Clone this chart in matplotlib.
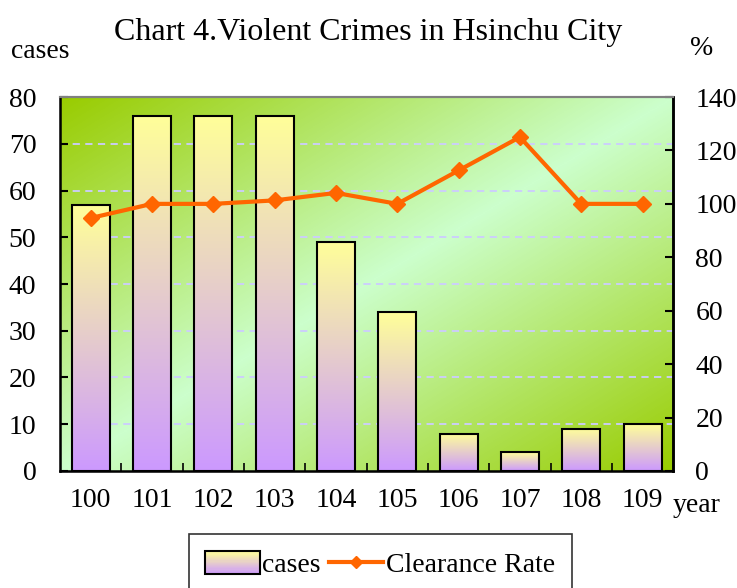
import numpy as np
import matplotlib
matplotlib.use("Agg")
import matplotlib.pyplot as plt
from matplotlib.colors import LinearSegmentedColormap
from matplotlib.patches import Rectangle
from matplotlib.lines import Line2D
from matplotlib.legend_handler import HandlerBase

plt.rcParams['font.family'] = ['Liberation Serif', 'DejaVu Serif']

years = ['100', '101', '102', '103', '104', '105', '106', '107', '108', '109']
cases = [57, 76, 76, 76, 49, 34, 8, 4, 9, 10]
clearance = [94.7, 100, 100, 101.3, 104.1, 100, 112.5, 125, 100, 100]

ORANGE = '#FF6600'
FS = 20
bar_cmap = LinearSegmentedColormap.from_list('bar', ['#CC99FF', '#FFFF99'])
bg_cmap = LinearSegmentedColormap.from_list('bg', ['#CCFFCC', '#99CC00'])

fig = plt.figure(figsize=(7.37, 5.88), dpi=100)
ax = fig.add_axes([0.0814, 0.199, 0.832, 0.636])
x = np.arange(len(years))

# background diagonal gradient
gx, gy = np.meshgrid(np.linspace(0, 1, 300), np.linspace(1, 0, 300))
t = np.abs(gx + (1 - gy) - 1)
ax.imshow(t, cmap=bg_cmap, extent=[0, 1, 0, 1], transform=ax.transAxes,
          aspect='auto', zorder=0, vmin=0, vmax=1)

bars = ax.bar(x, cases, width=0.62, facecolor='none', edgecolor='black',
              linewidth=1.5, zorder=3)
grad = np.linspace(1, 0, 256).reshape(-1, 1)
for b in bars:
    im = ax.imshow(grad, cmap=bar_cmap, aspect='auto', zorder=2,
                   extent=[b.get_x(), b.get_x() + b.get_width(), 0, b.get_height()])
    im.set_clip_path(b)

ax.set_xlim(-0.5, len(years) - 0.5)
ax.set_ylim(0, 80)
ax.set_yticks(range(0, 81, 10))
for yv in range(10, 80, 10):
    ax.axhline(yv, color='#CCCCFF', linestyle=(0, (4, 3)), linewidth=1.3, zorder=1)

ax.set_xticks(x)
ax.set_xticklabels(years)
ax.set_xticks(np.arange(0.5, len(years) - 1, 1), minor=True)
ax.tick_params(axis='x', which='major', length=0, pad=12, labelsize=FS)
ax.tick_params(axis='x', which='minor', direction='in', length=6, width=1.2)
ax.tick_params(axis='y', direction='in', length=6, width=1.5, pad=17, labelsize=FS)

ax.spines['top'].set_color('#808080')
ax.spines['top'].set_linewidth(1.5)
for s in ['left', 'bottom', 'right']:
    ax.spines[s].set_linewidth(1.8)

ax2 = ax.twinx()
ax2.plot(x, clearance, color=ORANGE, linewidth=3, marker='D', markersize=8, zorder=5)
ax2.set_ylim(0, 140)
ax2.set_yticks(range(0, 141, 20))
ax2.tick_params(axis='y', direction='in', length=6, width=1.5, pad=16, labelsize=FS)
ax2.spines['right'].set_linewidth(1.8)
ax2.spines['top'].set_color('#808080')
ax2.spines['top'].set_linewidth(1.5)

fig.text(0.5, 0.945, 'Chart 4.Violent Crimes in Hsinchu City', ha='center', va='center', fontsize=23)
fig.text(0.015, 0.912, 'cases', ha='left', va='center', fontsize=FS)
fig.text(0.936, 0.918, '%', ha='left', va='center', fontsize=FS)
fig.text(0.912, 0.140, 'year', ha='left', va='center', fontsize=FS)


class GradientHandler(HandlerBase):
    def create_artists(self, legend, orig_handle, xdescent, ydescent, width, height, fontsize, trans):
        arts = []
        n = 20
        for i in range(n):
            c = bar_cmap((i + 0.5) / n)
            r = Rectangle((-xdescent, -ydescent + height * i / n), width, height / n + 0.2,
                          facecolor=c, edgecolor='none', transform=trans)
            arts.append(r)
        arts.append(Rectangle((-xdescent, -ydescent), width, height, facecolor='none',
                              edgecolor='black', linewidth=1.5, transform=trans))
        return arts


bar_handle = Rectangle((0, 0), 1, 1)
line_handle = Line2D([], [], color=ORANGE, linewidth=3, marker='D', markersize=6)
leg = fig.legend([bar_handle, line_handle], ['cases', 'Clearance Rate'],
                 handler_map={Rectangle: GradientHandler()},
                 loc='upper center', bbox_to_anchor=(0.516, 0.091), ncol=2, fontsize=FS,
                 frameon=True, fancybox=False, edgecolor='black', borderpad=0.6,
                 handlelength=1.95, handletextpad=0.1, columnspacing=0.3, handleheight=0.9,
                 borderaxespad=0)
leg.get_frame().set_linewidth(1.2)

fig.savefig('out.png', dpi=100)
